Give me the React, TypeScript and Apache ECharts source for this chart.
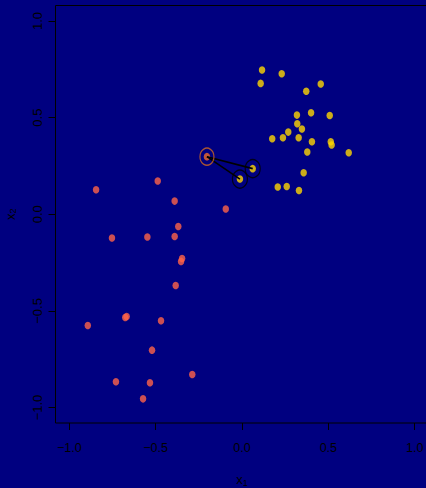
import React, { useEffect, useRef } from "react";
import * as echarts from "echarts";

const orangeX = [-0.845, -0.488, -0.390, -0.094, -0.369, -0.753, -0.548, -0.390, -0.347, -0.353, -0.384, -0.893, -0.668, -0.676, -0.469, -0.521, -0.288, -0.730, -0.533, -0.573];
const orangeY = [0.127, 0.172, 0.068, 0.027, -0.063, -0.123, -0.118, -0.115, -0.229, -0.244, -0.369, -0.576, -0.529, -0.534, -0.551, -0.703, -0.829, -0.867, -0.872, -0.955];

const yellowX = [0.116, 0.230, 0.108, 0.456, 0.372, 0.318, 0.400, 0.508, 0.320, 0.347, 0.268, 0.175, 0.237, 0.328, 0.405, 0.514, 0.519, 0.378, 0.618, 0.357, 0.207, 0.259, 0.330];
const yellowY = [0.746, 0.727, 0.677, 0.674, 0.636, 0.513, 0.525, 0.511, 0.468, 0.441, 0.425, 0.391, 0.396, 0.396, 0.375, 0.375, 0.358, 0.322, 0.318, 0.215, 0.141, 0.144, 0.123];

const focusX = [-0.203];
const focusY = [0.298];
const neighbourX = [0.062, -0.012];
const neighbourY = [0.236, 0.182];

const xTicks = [-1, -0.5, 0, 0.5, 1];
const yTicks = [-1, -0.5, 0, 0.5, 1];

const fmt = (v: number) => (v < 0 ? "\u2212" : "") + Math.abs(v).toFixed(1);

export default function App() {
  const ref = useRef<HTMLDivElement>(null);
  useEffect(() => {
    document.body.style.margin = "0";
    const chart = echarts.init(ref.current!, null, { renderer: "svg" });
    const orange = orangeX.map((x, i) => [x, orangeY[i]]);
    const yellow = yellowX.map((x, i) => [x, yellowY[i]]);
    const focus = focusX.map((x, i) => [x, focusY[i]]);
    const neigh = neighbourX.map((x, i) => [x, neighbourY[i]]);
    const lineSeries = neigh.map((p) => ({
      type: "line",
      data: [focus[0], p],
      showSymbol: false,
      symbol: "none",
      lineStyle: { color: "#000", width: 1.6 },
      z: 3,
      silent: true,
    }));
    const rich = {
      a: { fontSize: 13, fontFamily: "'Liberation Sans', Arial, sans-serif", color: "#000" },
      b: { fontSize: 9, fontFamily: "'Liberation Sans', Arial, sans-serif", color: "#000", padding: [6, 0, 0, 0] },
    };
    chart.setOption({
      animation: false,
      backgroundColor: "#000080",
      grid: {
        show: true,
        left: 55.5,
        top: 5.5,
        width: 373,
        height: 417.5,
        containLabel: false,
        outerBoundsMode: "none",
        borderColor: "#000",
        borderWidth: 1,
        backgroundColor: "transparent",
      },
      xAxis: {
        type: "value",
        min: -1.08,
        max: 1.08,
        position: "bottom",
        axisLine: { show: false, onZero: false },
        splitLine: { show: false },
        axisTick: { show: true, customValues: xTicks, length: 7, lineStyle: { color: "#000" } },
        axisLabel: {
          customValues: xTicks,
          formatter: fmt,
          color: "#000",
          fontFamily: "'Liberation Sans Narrow', 'Liberation Sans', Arial, sans-serif",
          fontSize: 12.5,
          margin: 18,
        },
        name: "{a|x}{b|1}",
        nameLocation: "middle",
        nameGap: 49,
        nameTextStyle: { color: "#000", rich },
      },
      yAxis: {
        type: "value",
        min: -1.08,
        max: 1.08,
        position: "left",
        axisLine: { show: false, onZero: false },
        splitLine: { show: false },
        axisTick: { show: true, customValues: yTicks, length: 7, lineStyle: { color: "#000" } },
        axisLabel: {
          customValues: yTicks,
          formatter: fmt,
          rotate: 90,
          color: "#000",
          fontFamily: "'Liberation Sans', Arial, sans-serif",
          fontSize: 13,
          margin: 12,
        },
        name: "{a|x}{b|2}",
        nameLocation: "middle",
        nameGap: 38,
        nameRotate: 90,
        nameTextStyle: { color: "#000", rich },
      },
      series: [
        {
          type: "scatter",
          data: orange,
          symbol: "circle",
          symbolSize: [6.5, 7.5],
          itemStyle: { color: "#FF6347" },
          z: 2,
          silent: true,
        },
        {
          type: "scatter",
          data: yellow,
          symbol: "circle",
          symbolSize: [6.5, 7.5],
          itemStyle: { color: "#FFD700" },
          z: 2,
          silent: true,
        },
        {
          type: "scatter",
          data: neigh,
          symbol: "circle",
          symbolSize: [6.5, 7.5],
          itemStyle: { color: "#FFD700" },
          z: 2,
          silent: true,
        },
        {
          type: "scatter",
          data: focus,
          symbol: "circle",
          symbolSize: [6.5, 7.5],
          itemStyle: { color: "#F06A28" },
          z: 2,
          silent: true,
        },
        ...lineSeries,
        {
          type: "scatter",
          data: focus,
          symbol: "circle",
          symbolSize: [14, 17],
          itemStyle: { color: "transparent", borderColor: "#D2691E", borderWidth: 1.3 },
          z: 4,
          silent: true,
        },
        {
          type: "scatter",
          data: neigh,
          symbol: "circle",
          symbolSize: [15, 18],
          itemStyle: { color: "transparent", borderColor: "#000", borderWidth: 1.3 },
          z: 4,
          silent: true,
        },
      ],
    });
    return () => chart.dispose();
  }, []);
  return (
    <div
      ref={ref}
      style={{ position: "absolute", left: 0, top: 0, width: 426, height: 488, background: "#000080" }}
    />
  );
}
